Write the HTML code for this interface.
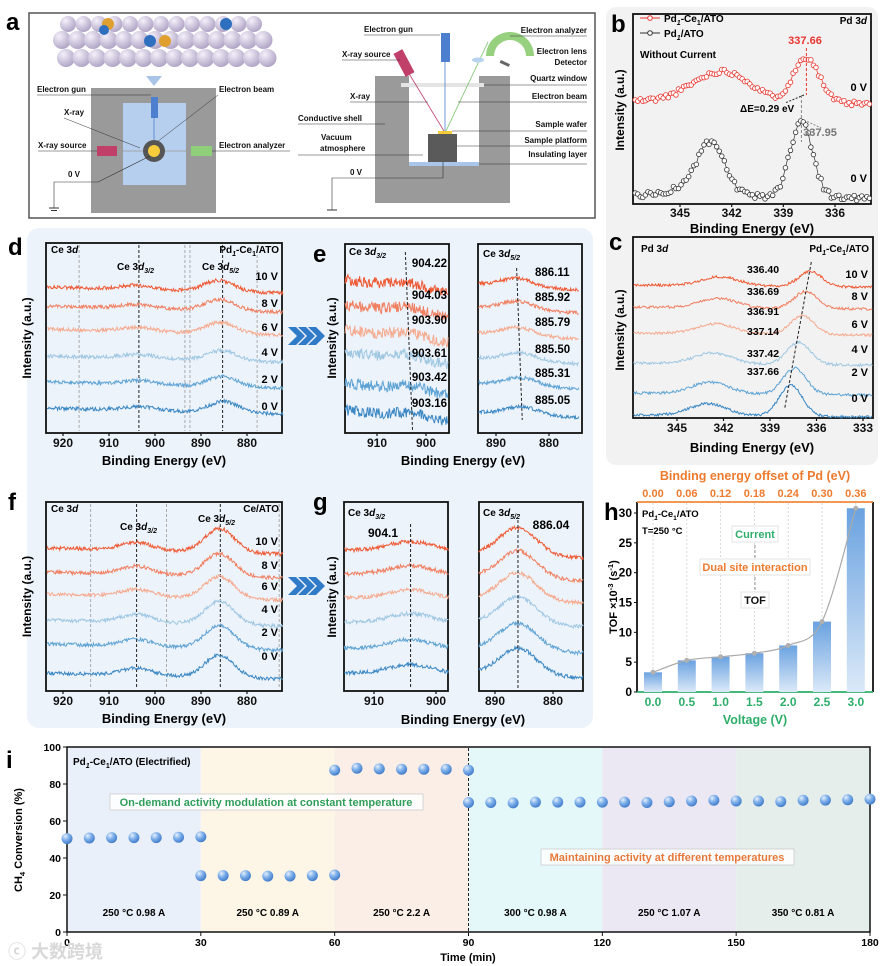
<!DOCTYPE html>
<html><head><meta charset="utf-8">
<style>
html,body{margin:0;padding:0;background:#fff;}
svg{display:block;font-family:"Liberation Sans",Arial,sans-serif;}
text{font-weight:bold;}
</style></head>
<body>
<svg id="fig" width="886" height="966" viewBox="0 0 886 966" xmlns="http://www.w3.org/2000/svg">
<defs>
<linearGradient id="barGrad" x1="0" y1="0" x2="0" y2="1"><stop offset="0" stop-color="#6aa2e0"/><stop offset="1" stop-color="#dbe9f8"/></linearGradient>
<radialGradient id="ball" cx="0.35" cy="0.3" r="0.75"><stop offset="0" stop-color="#e6f0fc"/><stop offset="0.45" stop-color="#7fb0ea"/><stop offset="1" stop-color="#3c78c8"/></radialGradient>
<radialGradient id="atom" cx="0.35" cy="0.3" r="0.8"><stop offset="0" stop-color="#f4f0fa"/><stop offset="1" stop-color="#a99cc0"/></radialGradient>
</defs>

<!-- backgrounds -->
<rect x="606" y="7" width="272" height="458" rx="10" fill="#f2f2f2"/>
<rect x="27" y="228" width="566" height="500" rx="12" fill="#edf3fb"/>

<!-- Panel a -->
<g>
<text x="6" y="30" font-size="24">a</text>
<rect x="29" y="13" width="566" height="205" fill="#fff" stroke="#555" stroke-width="1.5"/>
<g id="lattice"></g>
<polygon points="146,76 162,76 154,86" fill="#a8c4e6"/>
<rect x="91" y="88" width="125" height="125" fill="#9a9a9a"/>
<rect x="123" y="103" width="63" height="82" fill="#b7cfee"/>
<rect x="151" y="97" width="7" height="21" fill="#4d7fcf"/>
<line x1="154" y1="118" x2="154" y2="150" stroke="#4d7fcf" stroke-width="0.8"/>
<rect x="97" y="146" width="20" height="10" fill="#c0406a"/>
<rect x="191" y="146" width="21" height="10" fill="#8fcf7a"/>
<line x1="117" y1="151" x2="191" y2="151" stroke="#999" stroke-width="0.8"/>
<circle cx="154" cy="151" r="11" fill="#555"/>
<circle cx="154" cy="151" r="6" fill="#f6cc3c"/>
<g font-size="8" fill="#111">
<text x="37" y="92">Electron gun</text><line x1="37" y1="95" x2="151" y2="95" stroke="#333" stroke-width="0.5"/>
<text x="64" y="115">X-ray</text><line x1="64" y1="118" x2="140" y2="148" stroke="#333" stroke-width="0.5"/>
<text x="38" y="148">X-ray source</text><line x1="38" y1="151" x2="97" y2="151" stroke="#333" stroke-width="0.5"/>
<text x="68" y="177">0 V</text><polyline points="54,208 54,182 98,182 150,156" fill="none" stroke="#333" stroke-width="0.6"/>
<line x1="49" y1="208" x2="59" y2="208" stroke="#333"/><line x1="51" y1="210.5" x2="57" y2="210.5" stroke="#333"/>
<text x="219" y="92">Electron beam</text><line x1="218" y1="95" x2="157" y2="142" stroke="#333" stroke-width="0.5"/>
<text x="219" y="148">Electron analyzer</text><line x1="212" y1="151" x2="290" y2="151" stroke="#333" stroke-width="0.5"/>
</g>
<path d="M375,76 H409 V165 H479 V76 H510 V203 H375 Z" fill="#9a9a9a"/>
<rect x="401" y="83" width="83" height="4" fill="#e4e4e4"/>
<rect x="409" y="162" width="70" height="4" fill="#a9c6ea"/>
<rect x="428" y="134" width="29" height="28" fill="#5a5a5a"/>
<rect x="438" y="131" width="14" height="3" fill="#f6cc3c"/>
<rect x="441" y="33" width="9" height="29" fill="#4d7fcf"/>
<rect x="399" y="50" width="10" height="26" fill="#c0406a" transform="rotate(-28 404 63)"/>
<line x1="408" y1="72" x2="444" y2="131" stroke="#c0406a" stroke-width="0.8"/>
<line x1="445" y1="62" x2="445" y2="131" stroke="#4d7fcf" stroke-width="0.8"/>
<line x1="446" y1="131" x2="488" y2="42" stroke="#7ac36a" stroke-width="0.8"/>
<path d="M486,56 A24,24 0 0 1 534,56 L526,56 A16,16 0 0 0 494,56 Z" fill="#97d07f"/>
<ellipse cx="478" cy="60" rx="6" ry="2.5" fill="#b7d4ee"/>
<rect x="500" y="62" width="10" height="3" fill="#666" transform="rotate(25 505 63)"/>
<g font-size="8" fill="#111">
<text x="364" y="32">Electron gun</text><line x1="364" y1="35" x2="440" y2="35" stroke="#333" stroke-width="0.5"/>
<text x="342" y="57">X-ray source</text><line x1="342" y1="60" x2="400" y2="60" stroke="#333" stroke-width="0.5"/>
<text x="350" y="99">X-ray</text><line x1="350" y1="102" x2="428" y2="102" stroke="#333" stroke-width="0.5"/>
<text x="298" y="121">Conductive shell</text><line x1="298" y1="124" x2="385" y2="124" stroke="#333" stroke-width="0.5"/>
<text x="321" y="140">Vacuum</text><text x="320" y="151">atmosphere</text><line x1="298" y1="155" x2="423" y2="155" stroke="#333" stroke-width="0.5"/>
<text x="350" y="175">0 V</text><polyline points="332,210 332,178 443,178 443,162" fill="none" stroke="#333" stroke-width="0.6"/>
<line x1="327" y1="210" x2="337" y2="210" stroke="#333"/>
<g text-anchor="end">
<text x="587" y="33">Electron analyzer</text><line x1="510" y1="36" x2="587" y2="36" stroke="#333" stroke-width="0.5"/>
<text x="587" y="54">Electron lens</text>
<text x="587" y="65">Detector</text>
<text x="587" y="81">Quartz window</text><line x1="484" y1="85" x2="587" y2="85" stroke="#333" stroke-width="0.5"/>
<text x="587" y="99">Electron beam</text><line x1="458" y1="102" x2="587" y2="102" stroke="#333" stroke-width="0.5"/>
<text x="587" y="127">Sample wafer</text><line x1="452" y1="131" x2="587" y2="131" stroke="#333" stroke-width="0.5"/>
<text x="587" y="143">Sample platform</text><line x1="457" y1="146" x2="587" y2="146" stroke="#333" stroke-width="0.5"/>
<text x="587" y="157">Insulating layer</text><line x1="479" y1="164" x2="587" y2="164" stroke="#333" stroke-width="0.5"/>
</g></g>
</g>

<g id="plots"></g>
<text x="8" y="958" font-size="18" fill="#d8d8d8" font-weight="normal" style="font-family:'Liberation Sans','Noto Sans CJK SC',sans-serif">ⓒ 大数跨境</text>
</svg>

<script>
// ---------- DATA ----------
const voltLabels = ["10 V","8 V","6 V","4 V","2 V","0 V"];
const voltColors = ["#ee5a34","#f07f60","#f5aa8e","#9fc7e2","#5ea3d4","#3a87c3"];
// panel b
const bRedPeaks = [342.9, 337.66];
const bBlackPeaks = [343.2, 337.95];
// panel c (Pd 3d peak positions by voltage, 10V..0V)
const cPeaks = [336.40, 336.69, 336.91, 337.14, 337.42, 337.66];
const cPeakLabels = ["336.40","336.69","336.91","337.14","337.42","337.66"];
// panel d/e (Pd1-Ce1/ATO)
const e32Peaks = [904.22, 904.03, 903.90, 903.61, 903.42, 903.16];
const e52Peaks = [886.11, 885.92, 885.79, 885.50, 885.31, 885.05];
const e32Labels = ["904.22","904.03","903.90","903.61","903.42","903.16"];
const e52Labels = ["886.11","885.92","885.79","885.50","885.31","885.05"];
// panel f/g (Ce/ATO)
const g32Peak = 904.1;
const g52Peak = 886.04;
// panel h
const hVoltages = ["0.0","0.5","1.0","1.5","2.0","2.5","3.0"];
const hOffsets = ["0.00","0.06","0.12","0.18","0.24","0.30","0.36"];
const hTOF = [3.3, 5.3, 5.9, 6.5, 7.8, 11.8, 30.8];
const hYTicks = [0,5,10,15,20,25,30];
// panel i
const iSeg1Time = [0,5,10,15,20,25,30];
const iSeg1Conv = [50.5,50.8,51,51,51,51.2,51.5];
const iSeg2Time = [30,35,40,45,50,55,60];
const iSeg2Conv = [30.5,30.5,30.5,30.2,30.3,30.5,30.8];
const iSeg3Time = [60,65,70,75,80,85,90];
const iSeg3Conv = [87.5,88.5,88.2,88,88,88,87.5];
const iSeg4Time = [90,95,100,105,110,115,120,125,130,135,140,145,150,155,160,165,170,175,180];
const iSeg4Conv = [70,70,69.8,70.2,70.2,70.2,70.2,70.2,70,70.4,70.8,71.2,70.8,70.8,70.5,71.2,71.3,71.5,71.8];
const iXTicks = [0,30,60,90,120,150,180];
const iYTicks = [0,20,40,60,80,100];
const iBandStarts = [0,30,60,90,120,150];
const iBandColors = ["#eaf0fa","#fdf6e7","#fbeee6","#e4f8f9","#ebe8f4","#e5eeea"];
const iConditions = ["250 °C   0.98 A","250 °C   0.89 A","250 °C   2.2 A","300 °C   0.98 A","250 °C   1.07 A","350 °C   0.81 A"];

// ---------- HELPERS ----------
const NS="http://www.w3.org/2000/svg";
const root=document.getElementById('plots');
function mk(tag, attrs, parent){const e=document.createElementNS(NS,tag);for(const k in attrs)e.setAttribute(k,attrs[k]);(parent||root).appendChild(e);return e;}
function txt(x,y,s,size,attrs,parent){const t=mk('text',Object.assign({x:x,y:y,'font-size':size},attrs||{}),parent);t.textContent=s;return t;}
function lin(d0,d1,r0,r1){return v=>r0+(v-d0)*(r1-r0)/(d1-d0);}
function rng(seed){let s=seed;return()=>{s=(s*1103515245+12345)%2147483648;return s/2147483648-0.5;};}
function gauss(e,c,h,w){return h*Math.exp(-0.5*((e-c)/w)*((e-c)/w));}
function specPts(e0,e1,n,peaks,base,slope,noise,seed){
  const r=rng(seed);const pts=[];
  for(let i=0;i<=n;i++){const e=e0+(e1-e0)*i/n;let I=slope*(i/n);
    for(const p of peaks)I+=gauss(e,p[0],p[1],p[2]);
    I+=noise*r();pts.push([e,base-I]);}
  return pts;}
function pathFrom(pts,xs){return pts.map((p,i)=>(i?'L':'M')+xs(p[0]).toFixed(1)+','+p[1].toFixed(1)).join('');}
function frame(x0,y0,x1,y1,name){const r=mk('rect',{x:x0,y:y0,width:x1-x0,height:y1-y0,fill:'none',stroke:'#111','stroke-width':1.8});
  
  return r;}
function xTicks(xs,vals,y,labY,size,color){for(const v of vals){const X=xs(v);mk('line',{x1:X,y1:y,x2:X,y2:y+3,stroke:color||'#111','stroke-width':1.2});
  const t=txt(X,labY,String(v),size,{'text-anchor':'middle',fill:color||'#111'});
  
  }}
function vTitle(x,y,s,size){const t=txt(x,y,s,size,{'text-anchor':'middle',transform:'rotate(-90 '+x+' '+y+')'});
  
  return t;}
function sub(t,main,subs,italic){ // builds "Ce 3d" + subscript
  const a=mk('tspan',{},t);a.textContent=main;
  if(italic){const b=mk('tspan',{'font-style':'italic'},t);b.textContent=italic;}
  if(subs){const c=mk('tspan',{'font-size':'0.7em',dy:'3','font-style':'italic'},t);c.textContent=subs;}}
function dash(x1,y1,x2,y2,col){return mk('line',{x1:x1,y1:y1,x2:x2,y2:y2,stroke:col,'stroke-width':1,'stroke-dasharray':'3,2'});}
function plabel(x,y,s){const t=txt(x,y,s,24,{});
  
  }

// ---------- PANEL b ----------
plabel(611,32,'b');
{const xs=lin(345,336,680,835);
 frame(633,14,871,204,'panel-b-frame');
 const red=specPts(347.6,334.0,92,[[bRedPeaks[0],26,1.6],[bRedPeaks[1],46,0.75],[341.5,8,1.2]],101,-3,5,11);
 const blk=specPts(347.6,334.0,92,[[bBlackPeaks[0],52,0.8],[bBlackPeaks[1],76,0.65],[344.8,6,1]],195,-3,6,23);
 for(const [pts,col,nm] of [[red,'#e8352f','series-pd1-ce1-ato'],[blk,'#333','series-pd1-ato']]){
   const p=mk('path',{d:pathFrom(pts,xs),fill:'none',stroke:col,'stroke-width':0.7});
   
   
   for(const q of pts){const c=mk('circle',{cx:xs(q[0]),cy:q[1],r:2.3,fill:'#fff',stroke:col,'stroke-width':0.8});
     
     }
 }
 xTicks(xs,[345,342,339,336],204,217,12);
 const tt=txt(752,233,'Binding Energy (eV)',13,{'text-anchor':'middle'});
 
 
 vTitle(624,110,'Intensity (a.u.)',12);
 // legend
 mk('line',{x1:640,y1:18,x2:660,y2:18,stroke:'#e8352f'});mk('circle',{cx:650,cy:18,r:2.3,fill:'#fff',stroke:'#e8352f'});
 let l=txt(664,22,'',10,{});sub(l,'Pd','1');mk('tspan',{dy:'-3'},l).textContent='-Ce';mk('tspan',{'font-size':'0.7em',dy:'3'},l).textContent='1';mk('tspan',{dy:'-3'},l).textContent='/ATO';
 
 
 mk('line',{x1:640,y1:33,x2:660,y2:33,stroke:'#333'});mk('circle',{cx:650,cy:33,r:2.3,fill:'#fff',stroke:'#333'});
 l=txt(664,37,'',10,{});sub(l,'Pd','1');mk('tspan',{dy:'-3'},l).textContent='/ATO';
 
 
 txt(640,58,'Without Current',10,{});
 l=txt(867,24,'Pd 3',10,{'text-anchor':'end'});mk('tspan',{'font-style':'italic'},l).textContent='d';
 txt(805,44,'337.66',11,{'text-anchor':'middle',fill:'#e8352f'});
 dash(xs(337.66),48,xs(337.66),95,'#e8352f');
 dash(xs(337.95),95,xs(337.95),142,'#888');
 mk('line',{x1:xs(337.8),y1:95,x2:xs(338.9),y2:103,stroke:'#222','stroke-dasharray':'2,1.5'});
 txt(740,112,'ΔE=0.29 eV',10,{});
 mk('line',{x1:xs(337.8),y1:120,x2:xs(336.8),y2:128,stroke:'#888','stroke-dasharray':'2,1.5'});
 txt(820,136,'337.95',11,{fill:'#777','text-anchor':'middle'});
 txt(867,91,'0 V',11,{'text-anchor':'end'});
 txt(867,182,'0 V',11,{'text-anchor':'end'});
}

// ---------- PANEL c ----------
plabel(609,250,'c');
{const xs=lin(345,333,677,863);
 frame(633,237,873,418,'panel-c-frame');
 const bases=[285,307,333,363,393,415];
 const heights=[15,17,19,22,26,31];
 for(let i=0;i<6;i++){
   const pts=specPts(347.8,332.4,260,[[cPeaks[i],heights[i],0.75],[343-0.16*(5-i),9+i*0.6,1.2]],bases[i],-2,2.6,100+i);
   const p=mk('path',{d:pathFrom(pts,xs),fill:'none',stroke:voltColors[i],'stroke-width':1});
   
   
   const vy=[278,300,328,353,376,402][i];
   txt(868,vy,voltLabels[i],11,{'text-anchor':'end'});
   txt(747,[273,295,315,335,357,375][i],cPeakLabels[i],10.5,{});
 }
 dash(xs(cPeaks[0])+1,262,xs(cPeaks[5])-6,408,'#222');
 xTicks(xs,[345,342,339,336,333],418,432,12);
 const tt=txt(752,452,'Binding Energy (eV)',13,{'text-anchor':'middle'});
 
 
 vTitle(624,330,'Intensity (a.u.)',12);
 let l=txt(641,252,'Pd 3',10,{});mk('tspan',{'font-style':'italic'},l).textContent='d';
 l=txt(869,252,'',10,{'text-anchor':'end'});sub(l,'Pd','1');mk('tspan',{dy:'-3'},l).textContent='-Ce';mk('tspan',{'font-size':'0.7em',dy:'3'},l).textContent='1';mk('tspan',{dy:'-3'},l).textContent='/ATO';
}

// ---------- Ce spectra builder ----------
function ceWide(y0,y1,bases,pk52,pk32,h52,h32,dashes,labelYs,tag){
 const xs=lin(920,880,63,247);
 frame(46,y0,282,y1,tag+'-frame');
 for(const d of dashes)dash(xs(d[0]),y0+2,xs(d[0]),y1-2,d[1]);
 for(let i=0;i<6;i++){
   const pts=specPts(923.5,872.2,330,[[pk52[i],h52[i],3.2],[pk32[i],h32[i],3.5]],bases[i],-6,3.6,200+i+(tag=='f'?50:0));
   const p=mk('path',{d:pathFrom(pts,xs),fill:'none',stroke:voltColors[i],'stroke-width':1});
   
   
   txt(278,labelYs[i],voltLabels[i],11,{'text-anchor':'end'});
 }
 xTicks(xs,[920,910,900,890,880],y1,y1+14,12);
 const tt=txt(164,y1+32,'Binding Energy (eV)',13,{'text-anchor':'middle'});
 
 
 vTitle(31,(y0+y1)/2,'Intensity (a.u.)',12);
 return xs;
}
function ceLabel(x,y,subs,anchor){const t=txt(x,y,'Ce 3',10,{'text-anchor':anchor||'start'});mk('tspan',{'font-style':'italic'},t).textContent='d';
 if(subs){mk('tspan',{'font-size':'0.7em',dy:'3','font-style':'italic'},t).textContent=subs;}return t;}
function chevrons(y){for(let k=0;k<3;k++){const x=288+k*10;mk('polygon',{points:`${x},${y-9} ${x+8},${y-9} ${x+17},${y} ${x+8},${y+9} ${x},${y+9} ${x+9},${y}`,fill:'#2f7bc8'});}
 const a=mk('rect',{x:286,y:y-10,width:40,height:20,fill:'none'});
 
 }

// ---------- PANEL d ----------
plabel(8,255,'d');
{const xs=ceWide(243,433,[287,306,329,356,382,408],e52Peaks,e32Peaks,[11,11,11,10,10,11],[4,4,4,4,4,4],
   [[916.5,'#aaa'],[903.5,'#222'],[893.5,'#aaa'],[892.4,'#aaa'],[885.3,'#222'],[877.8,'#aaa']],[280,307,331,356,383,410],'d');
 ceLabel(51,253);
 ceLabel(117,270,'3/2');ceLabel(202,270,'5/2');
 const l=txt(279,253,'',10,{'text-anchor':'end'});sub(l,'Pd','1');mk('tspan',{dy:'-3'},l).textContent='-Ce';mk('tspan',{'font-size':'0.7em',dy:'3'},l).textContent='1';mk('tspan',{dy:'-3'},l).textContent='/ATO';
 chevrons(336);
}
// ---------- PANEL e ----------
plabel(313,262,'e');
{const xl=lin(910,900,377,426), xr=lin(890,880,496,549);
 frame(345,244,449,433,'e-left-frame');frame(478,244,582,433,'e-right-frame');
 const bl=[280,305,330,352,383,410], br=[284,307,333,358,383,412];
 for(let i=0;i<6;i++){
   let pts=specPts(916.5,895.5,150,[[e32Peaks[i],5,3]],bl[i],-12,11,300+i);
   let p=mk('path',{d:pathFrom(pts,xl),fill:'none',stroke:voltColors[i],'stroke-width':1});
   
   
   pts=specPts(893.3,874.4,150,[[e52Peaks[i],8,3]],br[i],-6,3.4,400+i);
   p=mk('path',{d:pathFrom(pts,xr),fill:'none',stroke:voltColors[i],'stroke-width':1});
   
   
   txt(447,[267,299,324,357,381,407][i],e32Labels[i],11.5,{'text-anchor':'end'});
   txt(535,[276,301,326,353,377,404][i],e52Labels[i],11.5,{});
 }
 dash(xl(e32Peaks[0]),252,xl(e32Peaks[5])+2,430,'#222');
 dash(xr(e52Peaks[0]),268,xr(e52Peaks[5]),420,'#222');
 ceLabel(349,255,'3/2');ceLabel(483,257,'5/2');
 xTicks(xl,[910,900],433,447,12);xTicks(xr,[890,880],433,447,12);
 const tt=txt(463,465,'Binding Energy (eV)',13,{'text-anchor':'middle'});
 
 
 vTitle(336,338,'Intensity (a.u.)',12);
}
// ---------- PANEL f ----------
plabel(8,510,'f');
{const xs=ceWide(502,691,[548,572,594,620,644,673],[886,886,886,886,886,886],[904,904,904,904,904,904],[24,23,22,23,23,22],[8,8,7,8,7,7],
   [[914,'#aaa'],[904,'#222'],[897.5,'#aaa'],[885.8,'#222'],[873,'#aaa']],[545,569,590,613,636,660],'f');
 ceLabel(51,512);ceLabel(120,530,'3/2');ceLabel(198,522,'5/2');
 txt(279,512,'Ce/ATO',10,{'text-anchor':'end'});
 chevrons(586);
}
// ---------- PANEL g ----------
plabel(313,510,'g');
{const xl=lin(910,900,374,436), xr=lin(890,880,495,553);
 frame(344,502,448,691,'g-left-frame');frame(479,502,583,691,'g-right-frame');
 const bl=[550,574,598,622,648,673], br=[553,576,598,622,648,673];
 for(let i=0;i<6;i++){
   let pts=specPts(914.8,898,150,[[g32Peak,9,3.5]],bl[i],-1,4,500+i);
   let p=mk('path',{d:pathFrom(pts,xl),fill:'none',stroke:voltColors[i],'stroke-width':1});
   
   
   pts=specPts(892.8,874.8,150,[[g52Peak,27,3.2]],br[i],-5,4,600+i);
   p=mk('path',{d:pathFrom(pts,xr),fill:'none',stroke:voltColors[i],'stroke-width':1});
   
   
 }
 dash(xl(g32Peak),524,xl(g32Peak),688,'#222');dash(xr(g52Peak),520,xr(g52Peak),688,'#222');
 txt(383,537,'904.1',12,{'text-anchor':'middle'});txt(551,529,'886.04',12,{'text-anchor':'middle'});
 ceLabel(348,516,'3/2');ceLabel(483,516,'5/2');
 xTicks(xl,[910,900],691,705,12);xTicks(xr,[890,880],691,705,12);
 const tt=txt(463,724,'Binding Energy (eV)',13,{'text-anchor':'middle'});
 
 
 vTitle(336,597,'Intensity (a.u.)',12);
}

// ---------- PANEL h ----------
plabel(604,520,'h');
{const xs=i=>653+i*33.8, ys=lin(0,30,692,513);
 mk('line',{x1:637,y1:502,x2:637,y2:692,stroke:'#111','stroke-width':1.8});
 mk('line',{x1:873,y1:502,x2:873,y2:692,stroke:'#111','stroke-width':1.8});
 mk('line',{x1:637,y1:502,x2:873,y2:502,stroke:'#f08a3c','stroke-width':1.8});
 mk('line',{x1:637,y1:692,x2:873,y2:692,stroke:'#2eae6a','stroke-width':1.8});
 for(let i=0;i<hTOF.length;i++){
   mk('line',{x1:xs(i),y1:503,x2:xs(i),y2:691,stroke:'#c8c8c8','stroke-width':0.7,'stroke-dasharray':'2,2'});
   const b=mk('rect',{x:xs(i)-9,y:ys(hTOF[i]),width:18,height:692-ys(hTOF[i]),fill:'url(#barGrad)'});
   
   
   const t=txt(xs(i),706,hVoltages[i],12,{'text-anchor':'middle',fill:'#2eae6a'});
   
   
   const o=txt(xs(i),497,hOffsets[i],11,{'text-anchor':'middle',fill:'#ee7a2e'});
   
   
 }
 for(const v of hYTicks){mk('line',{x1:637,y1:ys(v),x2:634,y2:ys(v),stroke:'#111'});
   const t=txt(632,ys(v)+4,String(v),12,{'text-anchor':'end'});
   
   }
 // smooth curve (Catmull-Rom) through bar tops
 const P=hTOF.map((v,i)=>[xs(i),ys(v)]);
 let d='M'+P[0][0]+','+P[0][1];
 for(let i=0;i<P.length-1;i++){const p0=P[Math.max(0,i-1)],p1=P[i],p2=P[i+1],p3=P[Math.min(P.length-1,i+2)];
   d+=` C${p1[0]+(p2[0]-p0[0])/6},${p1[1]+(p2[1]-p0[1])/6} ${p2[0]-(p3[0]-p1[0])/6},${p2[1]-(p3[1]-p1[1])/6} ${p2[0]},${p2[1]}`;}
 const c=mk('path',{d:d,fill:'none',stroke:'#aaa','stroke-width':1.2});
 
 
 for(const p of P){const pt=mk('circle',{cx:p[0],cy:p[1],r:2.5,fill:'#b0b0b0'});
   
   }
 let l=txt(642,517,'',9.5,{});sub(l,'Pd','1');mk('tspan',{dy:'-3'},l).textContent='-Ce';mk('tspan',{'font-size':'0.7em',dy:'3'},l).textContent='1';mk('tspan',{dy:'-3'},l).textContent='/ATO';
 txt(642,534,'T=250 °C',9.5,{});
 dash(755,545,755,562,'#999');dash(755,577,755,594,'#999');
 for(const [lab,y,col,w] of [['Current',538,'#2eae6a',46],['Dual site interaction',571,'#ee7a2e',110],['TOF',604,'#111',28]]){
   mk('rect',{x:755-w/2,y:y-12,width:w,height:16,fill:'#fff',stroke:'#ddd','stroke-width':0.8});
   const t=txt(755,y,lab,11,{'text-anchor':'middle',fill:col});
   
   }
 let tt=txt(755,480,'Binding energy offset of Pd (eV)',12.5,{'text-anchor':'middle',fill:'#ee7a2e'});
 
 
 tt=txt(755,724,'Voltage (V)',12.5,{'text-anchor':'middle',fill:'#2eae6a'});
 
 
 const yt=txt(617,597,'',11,{'text-anchor':'middle',transform:'rotate(-90 617 597)'});
 mk('tspan',{},yt).textContent='TOF ×10';mk('tspan',{'font-size':'0.7em',dy:'-4'},yt).textContent='-3';
 mk('tspan',{dy:'4'},yt).textContent=' (s';mk('tspan',{'font-size':'0.7em',dy:'-4'},yt).textContent='-1';mk('tspan',{dy:'4'},yt).textContent=')';
 
 
}

// ---------- PANEL i ----------
plabel(6,768,'i');
{const xs=lin(0,180,67,870), ys=lin(0,100,932,747);
 for(let k=0;k<iBandStarts.length;k++){const b=mk('rect',{x:xs(iBandStarts[k]),y:747,width:xs(iBandStarts[k]+30)-xs(iBandStarts[k]),height:185,fill:iBandColors[k]});
   
   
   const t=txt(xs(iBandStarts[k]+15),916,iConditions[k],10,{'text-anchor':'middle','xml:space':'preserve'});
   
   }
 mk('rect',{x:67,y:747,width:803,height:185,fill:'none',stroke:'#111','stroke-width':1.5});
 dash(xs(90),748,xs(90),931,'#222');
 for(const v of iXTicks){mk('line',{x1:xs(v),y1:932,x2:xs(v),y2:936,stroke:'#111'});
   const t=txt(xs(v),946,String(v),10.5,{'text-anchor':'middle'});
   
   }
 for(const v of iYTicks){mk('line',{x1:67,y1:ys(v),x2:63,y2:ys(v),stroke:'#111'});
   const t=txt(61,ys(v)+4,String(v),10.5,{'text-anchor':'end'});
   
   }
 for(const [T,C] of [[iSeg1Time,iSeg1Conv],[iSeg2Time,iSeg2Conv],[iSeg3Time,iSeg3Conv],[iSeg4Time,iSeg4Conv]]){
   for(let k=0;k<T.length;k++){const c=mk('circle',{cx:xs(T[k]),cy:ys(C[k]),r:5.5,fill:'url(#ball)'});
     
     }}
 let l=txt(73,765,'',10,{});sub(l,'Pd','1');mk('tspan',{dy:'-3'},l).textContent='-Ce';mk('tspan',{'font-size':'0.7em',dy:'3'},l).textContent='1';mk('tspan',{dy:'-3'},l).textContent='/ATO (Electrified)';
 mk('rect',{x:110,y:794,width:313,height:16,fill:'#fff','fill-opacity':0.85,stroke:'#ccc','stroke-width':0.8});
 let t=txt(266,806,'On-demand activity modulation at constant temperature',11,{'text-anchor':'middle',fill:'#2f9e5a'});
 
 
 mk('rect',{x:541,y:849,width:253,height:16,fill:'#fff','fill-opacity':0.85,stroke:'#ccc','stroke-width':0.8});
 t=txt(667,861,'Maintaining activity at different temperatures',11,{'text-anchor':'middle',fill:'#e6793a'});
 
 
 t=txt(468,961,'Time (min)',11,{'text-anchor':'middle'});
 
 
 const yt=txt(22,840,'',11,{'text-anchor':'middle',transform:'rotate(-90 22 840)'});
 mk('tspan',{},yt).textContent='CH';mk('tspan',{'font-size':'0.7em',dy:'3'},yt).textContent='4';mk('tspan',{dy:'-3'},yt).textContent=' Conversion (%)';
 
 
}

// lattice for panel a
{const g=document.getElementById('lattice');
 for(let row=0;row<2;row++)for(let k=0;k<14;k++){const cx=62+k*15.5+(row?4:0), cy=row?58:40;
   mk('circle',{cx:cx,cy:cy,r:9,fill:'url(#atom)'},g);}
 for(let k=0;k<13;k++)mk('circle',{cx:68+k*15.5,cy:24,r:8,fill:'url(#atom)'},g);
 mk('circle',{cx:108,cy:24,r:6,fill:'#e0a030'},g);mk('circle',{cx:150,cy:41,r:6,fill:'#2f6fc0'},g);
 mk('circle',{cx:165,cy:41,r:6,fill:'#e0a030'},g);mk('circle',{cx:226,cy:24,r:6,fill:'#2f6fc0'},g);mk('circle',{cx:104,cy:30,r:5,fill:'#2f6fc0'},g);
}
</script>
</body></html>
